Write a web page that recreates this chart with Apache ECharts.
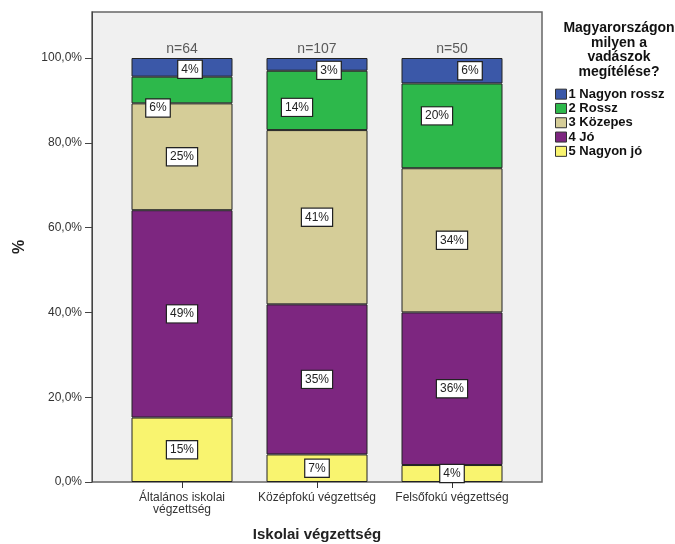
<!DOCTYPE html>
<html>
<head>
<meta charset="utf-8">
<script src="https://cdn.jsdelivr.net/npm/echarts@6/dist/echarts.min.js"></script>
<style>html,body{margin:0;padding:0;background:#fff}#c{width:675px;height:544px}</style>
</head>
<body>
<div id="c"></div>
<script>
// ---- data ----
const categories = ['Általános iskolai\nvégzettség', 'Középfokú végzettség', 'Felsőfokú végzettség'];
const nCounts = [64, 107, 50];
const seriesNames = ['1 Nagyon rossz', '2 Rossz', '3 Közepes', '4 Jó', '5 Nagyon jó'];
const nagyonRossz = [4.4, 3.0, 6.0];
const rossz = [6.3, 14.0, 20.0];
const kozepes = [25.2, 41.1, 34.0];
const jo = [48.9, 35.4, 36.0];
const nagyonJo = [15.2, 6.5, 4.0];
const yTicks = [0, 20, 40, 60, 80, 100];

const FONT = 'Arial, "Liberation Sans", sans-serif';
const colors = {
  '1 Nagyon rossz': '#3b58a8',
  '2 Rossz': '#2db84b',
  '3 Közepes': '#d5cd98',
  '4 Jó': '#7d2680',
  '5 Nagyon jó': '#f9f46f'
};
// label nudges (px) for small segments, per series per category
const labelShift = {
  '1 Nagyon rossz': [[8, 2], [12, 6], [18, 0]],
  '2 Rossz': [[-24, 18], [-20, 7], [-15, -10]]
};
const stackOrder = [
  ['5 Nagyon jó', nagyonJo],
  ['4 Jó', jo],
  ['3 Közepes', kozepes],
  ['2 Rossz', rossz],
  ['1 Nagyon rossz', nagyonRossz]
];

const series = stackOrder.map(([name, vals]) => ({
  name, type: 'bar', stack: 'total', barWidth: 101,
  itemStyle: { color: colors[name], borderColor: '#222', borderWidth: 1 },
  data: vals.map((v, i) => ({
    value: v,
    label: labelShift[name] ? { offset: labelShift[name][i] } : undefined
  })),
  label: {
    show: true, position: 'inside',
    formatter: p => Math.round(p.value) + '%',
    fontFamily: FONT, fontSize: 12, color: '#222',
    backgroundColor: '#fff', borderColor: '#222', borderWidth: 1.2,
    padding: [3, 3, 2, 3]
  },
  emphasis: { disabled: true }
}));
series.push({
  type: 'scatter', symbolSize: 0, silent: true,
  data: nCounts.map(() => 100),
  label: {
    show: true, position: 'top', distance: 2,
    formatter: p => 'n=' + nCounts[p.dataIndex],
    fontFamily: FONT, fontSize: 14, color: '#333'
  }
});

const chart = echarts.init(document.getElementById('c'));
chart.setOption({
  animation: false,
  backgroundColor: '#fff',
  graphic: [{
    type: 'rect', z: -10, silent: true,
    shape: { x: 92, y: 12, width: 450, height: 470 },
    style: { fill: '#f0f0f0', stroke: '#666', lineWidth: 1.5 }
  }],
  title: {
    text: 'Magyarországon\nmilyen a\nvadászok\nmegítélése?',
    left: 614, top: 16, textAlign: 'center',
    textStyle: { fontFamily: FONT, fontSize: 14, fontWeight: 'bold', color: '#111', lineHeight: 14.5, align: 'center' }
  },
  legend: {
    orient: 'vertical', left: 555, top: 87, padding: 0,
    data: seriesNames, icon: 'rect',
    itemWidth: 11, itemHeight: 10, itemGap: 0,
    itemStyle: { borderColor: '#333', borderWidth: 1 },
    textStyle: { fontFamily: FONT, fontSize: 13, fontWeight: 'bold', color: '#111', padding: [0, 0, 0, -3], lineHeight: 14.3 },
    selectedMode: false
  },
  grid: { left: 114.5, width: 405, top: 12, bottom: 62, containLabel: false, outerBoundsMode: 'none' },
  xAxis: {
    type: 'category', data: categories,
    axisLine: { show: false },
    axisTick: { show: true, alignWithLabel: true, length: 6, lineStyle: { color: '#333' } },
    axisLabel: { interval: 0, hideOverlap: false, fontFamily: FONT, fontSize: 12, color: '#333', margin: 10, lineHeight: 12 },
    name: 'Iskolai végzettség', nameLocation: 'middle', nameGap: 45,
    nameTextStyle: { fontFamily: FONT, fontSize: 15, fontWeight: 'bold', color: '#222' }
  },
  yAxis: {
    type: 'value', min: 0, max: 110.85, offset: 22.5,
    axisLine: { show: true, lineStyle: { color: '#444' } },
    axisTick: { show: true, length: 7, customValues: yTicks, lineStyle: { color: '#444' } },
    axisLabel: {
      customValues: yTicks, margin: 10,
      formatter: v => v.toFixed(1).replace('.', ',') + '%',
      fontFamily: FONT, fontSize: 12, color: '#333'
    },
    splitLine: { show: false },
    name: '%', nameLocation: 'middle', nameGap: 64, nameRotate: 90,
    nameTextStyle: { fontFamily: FONT, fontSize: 16, fontWeight: 'bold', color: '#222' }
  },
  series
});
</script>
</body>
</html>
